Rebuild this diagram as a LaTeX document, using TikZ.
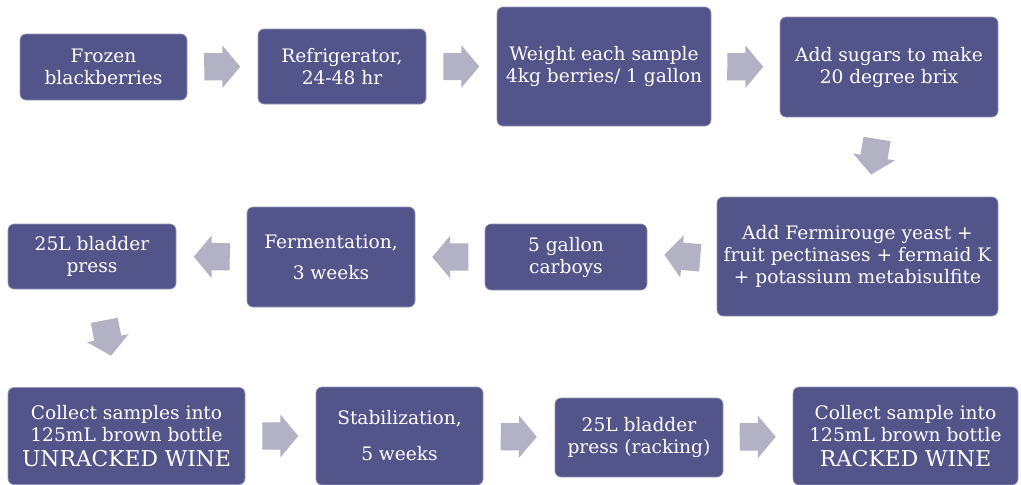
\documentclass[tikz,border=0pt]{standalone}
\usepackage{fontspec}
\setmainfont{DejaVu Serif}
\usetikzlibrary{shapes.arrows}
\definecolor{boxfill}{RGB}{83,84,138}
\definecolor{arrfill}{RGB}{178,178,196}
\begin{document}
\begin{tikzpicture}
			[x=1pt,y=-1pt,
			box/.style={rectangle,rounded corners=6pt,draw=boxfill!60!white,line width=0.6pt,fill=boxfill,text=white,align=center,inner sep=2pt,font=\fontsize{18.6}{22}\selectfont},
			arr/.style={single arrow,fill=arrfill,draw=none,text height=13.5pt,text depth=13.5pt,minimum height=36pt,single arrow head extend=7.5pt,single arrow tip angle=100,inner sep=0pt,sloped,allow upside down,midway,xshift=-6pt}]
			\clip(0,0)rectangle(1021,485);
			\fill[white](0,0)rectangle(1021,485);
			% first row
			\node[box,name=frozen,minimum width=167pt,minimum height=66pt]at(103.5,67){Frozen\\blackberries};
			\node[box,name=fridge,minimum width=168pt,minimum height=75pt]at(342,66.5){Refrigerator,\\24-48 hr};
			\node[box,name=weigh,minimum width=214pt,minimum height=119pt]at(604,66.5){Weight each sample\\4kg berries/ 1 gallon};
			\node[box,name=sugar,minimum width=218pt,minimum height=100pt]at(889,67){Add sugars to make\\20 degree brix};
			% second row
			\node[box,name=yeast,minimum width=281pt,minimum height=119pt]at(857.5,256.5){Add Fermirouge yeast +\\fruit pectinases + fermaid K\\+ potassium metabisulfite};
			\node[box,name=carboy,minimum width=162pt,minimum height=66pt]at(566,257){5 gallon\\carboys};
			\node[box,name=ferment,minimum width=168pt,minimum height=100pt]at(331,257){Fermentation,\\[9pt]3 weeks};
			\node[box,name=press,minimum width=168pt,minimum height=65pt]at(92,256.5){25L bladder\\press};
			% third row
			\node[box,name=unracked,minimum width=237pt,minimum height=97pt]at(126.5,436){Collect samples into\\125mL brown bottle\\[3pt]{\fontsize{21.8}{26}\selectfont UNRACKED WINE}};
			\node[box,name=stab,minimum width=167pt,minimum height=98pt]at(399.5,436){Stabilization,\\[14pt]5 weeks};
			\node[box,name=racking,minimum width=168pt,minimum height=79pt]at(639,437.5){25L bladder\\press (racking)};
			\node[box,name=racked,minimum width=225pt,minimum height=98pt]at(905.5,436){Collect sample into\\125mL brown bottle\\[3pt]{\fontsize{21.8}{26}\selectfont RACKED WINE}};
			% block arrows
			\path(frozen)--node[arr,name=a1]{}(fridge);
			\path(fridge)--node[arr,name=a2]{}(weigh);
			\path(weigh)--node[arr,name=a3]{}(sugar);
			\path(sugar)--node[arr,name=a4]{}(yeast);
			\path(yeast)--node[arr,name=a5,rotate=-5]{}(carboy);
			\path(carboy)--node[arr,name=a6]{}(ferment);
			\path(ferment)--node[arr,name=a7]{}(press);
			\path(press)--node[arr,name=a8]{}(unracked);
			\path(unracked)--node[arr,name=a9]{}(stab);
			\path(stab)--node[arr,name=a10]{}(racking);
			\path(racking)--node[arr,name=a11]{}(racked);
		\end{tikzpicture}
\end{document}
